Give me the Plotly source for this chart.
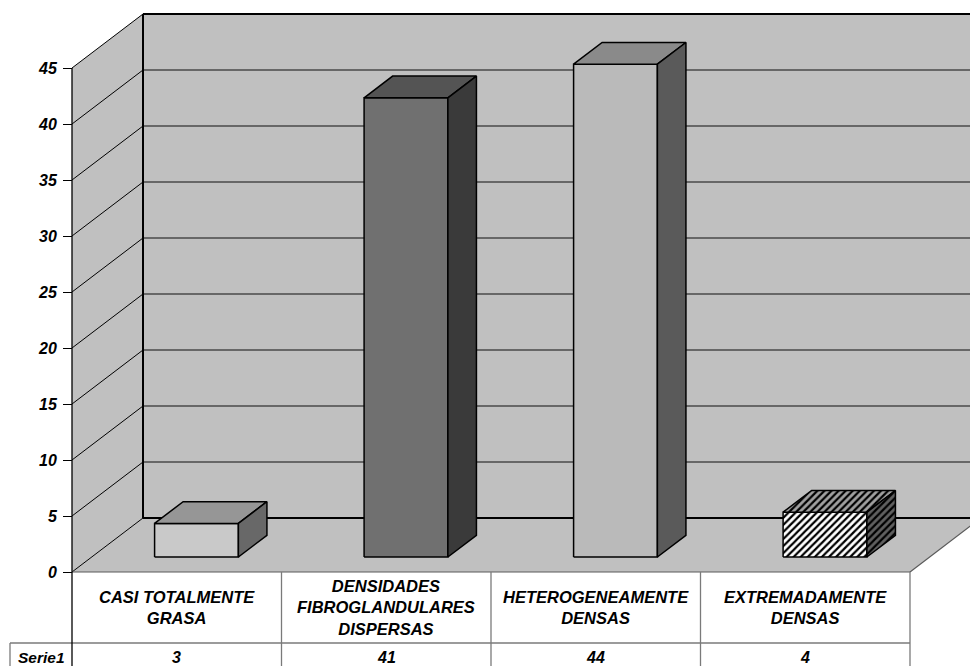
import plotly.graph_objects as go

# ---- data -------------------------------------------------------------
categories = [
    "CASI TOTALMENTE<br>GRASA",
    "DENSIDADES<br>FIBROGLANDULARES<br>DISPERSAS",
    "HETEROGENEAMENTE<br>DENSAS",
    "EXTREMADAMENTE<br>DENSAS",
]
values = [3, 41, 44, 4]
series_name = "Serie1"
y_ticks = [0, 5, 10, 15, 20, 25, 30, 35, 40, 45]

# ---- styling ------------------------------------------------------------
FONT = "Liberation Sans, Arial, sans-serif"
WALL = "#c0c0c0"
# (front, top, side) face colours for each column
face_colors = [
    ("#c9c9c9", "#969696", "#686868"),
    ("#707070", "#545454", "#3a3a3a"),
    ("#bababa", "#8a8a8a", "#5a5a5a"),
    ("#ffffff", "#a0a0a0", "#606060"),
]
hatched = [False, False, False, True]

W, H = 970, 666
# plot scale: one category = 209.5 px, one unit = 11.2 px
PX_X, PX_Y = 209.5, 11.2
X0_PX, Y0_PX = 72, 572
x_range = [-X0_PX / PX_X, (W - X0_PX) / PX_X]
y_range = [-(H - Y0_PX) / PX_Y, Y0_PX / PX_Y]

# oblique depth vector of the 3D box (in data units)
DX, DY = 71 / PX_X, 54 / PX_Y
YMAX = 45
NCAT = len(categories)
BAR_D0, BAR_D1 = 0.278, 0.68   # depth span of the columns
BAR_W = 0.4


def P(x, v, d):
    return x + d * DX, v + d * DY


def poly(pts):
    xs = [p[0] for p in pts] + [pts[0][0]]
    ys = [p[1] for p in pts] + [pts[0][1]]
    return xs, ys


fig = go.Figure()


def add_fill(pts, color, line_color=None, line_width=0, pattern=None):
    xs, ys = poly(pts)
    kw = {}
    if pattern:
        kw["fillpattern"] = pattern
    fig.add_trace(go.Scatter(
        x=xs, y=ys, mode="lines", fill="toself", fillcolor=color,
        line=dict(color=line_color or color, width=line_width),
        hoverinfo="skip", showlegend=False, **kw))


def add_lines(segments, color, width):
    xs, ys = [], []
    for a, b in segments:
        xs += [a[0], b[0], None]
        ys += [a[1], b[1], None]
    fig.add_trace(go.Scatter(
        x=xs, y=ys, mode="lines", line=dict(color=color, width=width),
        hoverinfo="skip", showlegend=False))


XR = NCAT + 0.6  # back wall runs past the right edge of the view

# walls and floor
add_fill([P(0, 0, 1), P(XR, 0, 1), P(XR, YMAX, 1), P(0, YMAX, 1)], WALL)
add_fill([P(0, 0, 0), P(0, YMAX, 0), P(0, YMAX, 1), P(0, 0, 1)], WALL)
add_fill([P(0, 0, 0), P(NCAT, 0, 0), P(NCAT, 0, 1), P(0, 0, 1)], WALL)

# gridlines
add_lines([(P(0, v, 1), P(XR, v, 1)) for v in y_ticks[1:-1]], "#4a4a4a", 1.5)
add_lines([(P(0, v, 0), P(0, v, 1)) for v in y_ticks[1:]], "#000000", 1)

# box edges
add_lines([(P(0, YMAX, 1), P(XR, YMAX, 1)),
           (P(0, 0, 1), P(0, YMAX, 1)),
           (P(0, 0, 1), P(XR, 0, 1))], "#000000", 2)
add_lines([(P(0, 0, 0), P(0, 0, 1))], "#000000", 1)
add_lines([(P(NCAT, 0, 0), P(NCAT, 0, 1)),
           (P(0, 0, 0), P(NCAT, 0, 0))], "#5a5a5a", 1.2)

# columns
for i, v in enumerate(values):
    xl = i + 0.5 - BAR_W / 2
    xr = i + 0.5 + BAR_W / 2
    front = [P(xl, 0, BAR_D0), P(xr, 0, BAR_D0), P(xr, v, BAR_D0), P(xl, v, BAR_D0)]
    top = [P(xl, v, BAR_D0), P(xr, v, BAR_D0), P(xr, v, BAR_D1), P(xl, v, BAR_D1)]
    side = [P(xr, 0, BAR_D0), P(xr, 0, BAR_D1), P(xr, v, BAR_D1), P(xr, v, BAR_D0)]
    fc, tc, sc = face_colors[i]
    for pts, c in ((front, fc), (top, tc), (side, sc)):
        pat = None
        if hatched[i]:
            pat = dict(shape="/", fgcolor="#000000", bgcolor=c,
                       size=5, solidity=0.45, fillmode="replace")
        add_fill(pts, c, "#000000", 1.5, pat)

# data table
ROW1 = -71 / PX_Y          # bottom of category row
ROW2 = -100 / PX_Y         # bottom of value row (below the view)
LABEL_X = -62 / PX_X       # left edge of the series label cell
add_lines([((k, 0), (k, ROW2)) for k in range(1, NCAT + 1)]
          + [((LABEL_X, ROW1), (NCAT, ROW1)),
             ((LABEL_X, ROW1), (LABEL_X, ROW2))], "#7a7a7a", 1.3)
add_lines([((0, YMAX), (0, ROW2))], "#000000", 1.3)

annotations = []
for i, (c, v) in enumerate(zip(categories, values)):
    annotations.append(dict(
        x=i + 0.5, y=ROW1 / 2, xref="x", yref="y", showarrow=False,
        text="<b><i>" + c.replace("<br>", "</i></b><br><b><i>") + "</i></b>",
        font=dict(family=FONT, size=16.5, color="#000000"), align="center"))
    annotations.append(dict(
        x=i + 0.5, y=-85 / PX_Y, xref="x", yref="y", showarrow=False,
        text=f"<b><i>{v}</i></b>",
        font=dict(family=FONT, size=16, color="#000000")))
annotations.append(dict(
    x=LABEL_X / 2, y=-85 / PX_Y, xref="x", yref="y", showarrow=False,
    text=f"<b><i>{series_name}</i></b>",
    font=dict(family=FONT, size=15.5, color="#000000")))

fig.update_layout(
    width=W, height=H,
    margin=dict(l=0, r=0, t=0, b=0),
    paper_bgcolor="white", plot_bgcolor="white",
    showlegend=False,
    annotations=annotations,
    xaxis=dict(range=x_range, visible=False, fixedrange=True),
    yaxis=dict(
        range=y_range, anchor="free", position=X0_PX / W, side="left",
        showgrid=False, zeroline=False, showline=False,
        ticks="outside", ticklen=9, tickwidth=1, tickcolor="#000000",
        tickvals=y_ticks, ticktext=[f"<b><i>{t}</i></b>" for t in y_ticks],
        tickfont=dict(family=FONT, size=16, color="#000000"),
        ticklabelstandoff=3,
        fixedrange=True,
    ),
)

fig.write_html("out.html")
